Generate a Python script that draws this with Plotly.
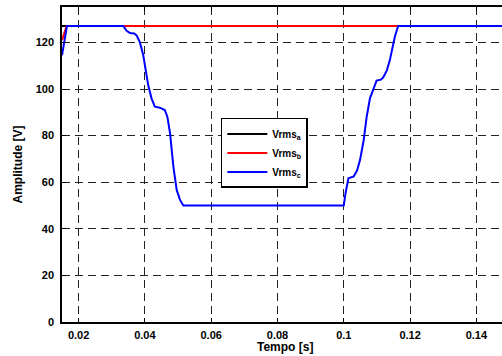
import plotly.graph_objects as go

t_a = [0.015, 0.15]
v_a = [127, 127]

t_b = [0.015, 0.0164, 0.15]
v_b = [121, 127, 127]

t_c = [0.015, 0.0158, 0.0165, 0.0335, 0.0345, 0.0355, 0.0368, 0.0375, 0.0385, 0.0395,
       0.041, 0.042, 0.043, 0.0445, 0.046, 0.0468, 0.0476, 0.0486, 0.0496, 0.0506, 0.0516,
       0.1, 0.1005, 0.1014, 0.1022, 0.103, 0.104, 0.1049, 0.106, 0.1069, 0.1079, 0.1089,
       0.1099, 0.1112, 0.1119, 0.113, 0.1139, 0.1154, 0.1164, 0.15]
v_c = [114.5, 122, 127, 127, 125, 124, 123.8, 123, 120, 114.6,
       101.7, 96, 92.4, 92, 91, 88, 81, 66.7, 56.7, 52.4, 50,
       50, 55, 61.7, 62, 62.5, 65, 69.5, 78, 88, 96, 100.3,
       103.6, 104, 105, 108, 112.4, 122.4, 127, 127]

x_ticks = [0.02, 0.04, 0.06, 0.08, 0.1, 0.12, 0.14]
x_tick_labels = ["0.02", "0.04", "0.06", "0.08", "0.1", "0.12", "0.14"]
y_ticks = [0, 20, 40, 60, 80, 100, 120]

FONT = "Liberation Sans, Arial, sans-serif"

fig = go.Figure()
fig.add_trace(go.Scatter(x=t_a, y=v_a, mode="lines", name="Vrms<sub>a</sub>",
                         line=dict(color="black", width=2)))
fig.add_trace(go.Scatter(x=t_b, y=v_b, mode="lines", name="Vrms<sub>b</sub>",
                         line=dict(color="#ff0000", width=2)))
fig.add_trace(go.Scatter(x=t_c, y=v_c, mode="lines", name="Vrms<sub>c</sub>",
                         line=dict(color="#0000ff", width=2)))

fig.update_layout(
    width=502, height=356,
    margin=dict(l=62, r=0, t=7, b=34, autoexpand=False),
    paper_bgcolor="white", plot_bgcolor="white",
    font=dict(family=FONT, size=11, color="black", weight="bold"),
    showlegend=True,
    legend=dict(x=0.361, y=0.648, xanchor="left", yanchor="top",
                bgcolor="white", bordercolor="black", borderwidth=1.5,
                font=dict(family=FONT, size=10, color="black", weight="bold"),
                tracegroupgap=0, itemwidth=40),
    annotations=[dict(text="Tempo [s]", xref="paper", yref="paper",
                      x=0.507, y=0, xanchor="center", yanchor="bottom", yshift=-34,
                      showarrow=False, font=dict(size=12, weight="bold"))],
)
fig.update_xaxes(
    range=[0.015, 0.14773], tickvals=x_ticks, ticktext=x_tick_labels,
    showline=True, linecolor="black", linewidth=1.5, mirror="ticks",
    ticks="inside", ticklen=4, tickcolor="black",
    showgrid=True, gridcolor="#222222", griddash="8px,5px", gridwidth=1,
    zeroline=False, automargin=False, ticklabelstandoff=2,
    tickfont=dict(size=11, weight="bold"),
)
fig.update_yaxes(
    range=[0, 135.2], tickvals=y_ticks,
    showline=True, linecolor="black", linewidth=1.5, mirror=False,
    ticks="inside", ticklen=4, tickcolor="black",
    showgrid=True, gridcolor="#222222", griddash="8px,5px", gridwidth=1,
    zeroline=False, automargin=False, ticklabelstandoff=4,
    title=dict(text="Amplitude [V]", font=dict(size=12, weight="bold"), standoff=10),
    tickfont=dict(size=11, weight="bold"),
)

fig.write_html("out.html", config={"displayModeBar": False},
               post_script="document.body.style.margin='0';document.body.style.overflow='hidden';")
